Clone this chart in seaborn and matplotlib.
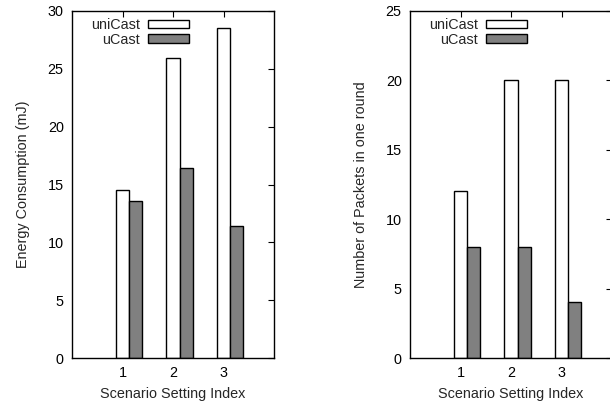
import matplotlib
matplotlib.use("Agg")
import matplotlib.pyplot as plt
import seaborn as sns
import pandas as pd

scenarios = [1, 2, 3]
series_names = ["uniCast", "uCast"]
energy_unicast = [14.5, 25.9, 28.5]
energy_ucast = [13.6, 16.4, 11.4]
packets_unicast = [12, 20, 20]
packets_ucast = [8, 8, 4]

sns.set_theme(style="white")
plt.rcParams["font.family"] = ["Liberation Sans", "DejaVu Sans"]
FS = 10.4
plt.rcParams["font.size"] = FS

palette = {"uniCast": "#ffffff", "uCast": "#808080"}
W = 610 / 100
H = 409 / 100
fig = plt.figure(figsize=(W, H), dpi=100)

def panel(rect, uni, uc, ylabel, ymax, ystep, ylabel_x):
    ax = fig.add_axes(rect)
    df = pd.DataFrame({
        "scenario": scenarios * 2,
        "value": uni + uc,
        "series": [series_names[0]] * 3 + [series_names[1]] * 3,
    })
    width = 0.52
    sns.barplot(data=df, x="scenario", y="value", hue="series",
                hue_order=series_names, palette=palette, native_scale=True,
                width=width, dodge=True, edgecolor="black", linewidth=1.0,
                saturation=1, ax=ax, legend=True)
    ticks = [s - width / 4 for s in scenarios]
    ax.set_xticks(ticks)
    ax.set_xticklabels([str(s) for s in scenarios])
    ax.set_xlim(ticks[0] - 1, ticks[-1] + 1)
    ax.set_ylim(0, ymax)
    ax.set_yticks(list(range(0, ymax + 1, ystep)))
    ax.set_xlabel("Scenario Setting Index", fontsize=FS, labelpad=5)
    ax.set_ylabel(ylabel, fontsize=FS)
    ax.yaxis.set_label_coords(ylabel_x, 0.5)
    ax.tick_params(direction="in", top=True, right=True, length=4.5, width=0.8,
                   labelsize=FS, colors="black", pad=6)
    ax.tick_params(axis="x", bottom=False, pad=6)
    for sp in ax.spines.values():
        sp.set_color("black")
        sp.set_linewidth(1.0)
    leg = ax.legend(loc="upper left", bbox_to_anchor=(0.06, 1.0), frameon=False,
                    markerfirst=False, handlelength=2.85, handleheight=0.5,
                    handletextpad=0.55, labelspacing=0.02, borderpad=0,
                    fontsize=FS)
    for t in leg.get_texts():
        t.set_ha("right")
    leg._legend_box.align = "right"
    for h in leg.legend_handles:
        h.set_edgecolor("black")
        h.set_linewidth(1.0)
    return ax

panel([72 / 610, 51 / 409, 202 / 610, 347 / 409], energy_unicast, energy_ucast,
      "Energy Consumption (mJ)", 30, 5, -0.21)
panel([410 / 610, 51 / 409, 202 / 610, 347 / 409], packets_unicast, packets_ucast,
      "Number of Packets in one round", 25, 5, -0.21)

fig.savefig("out.png", dpi=100)
